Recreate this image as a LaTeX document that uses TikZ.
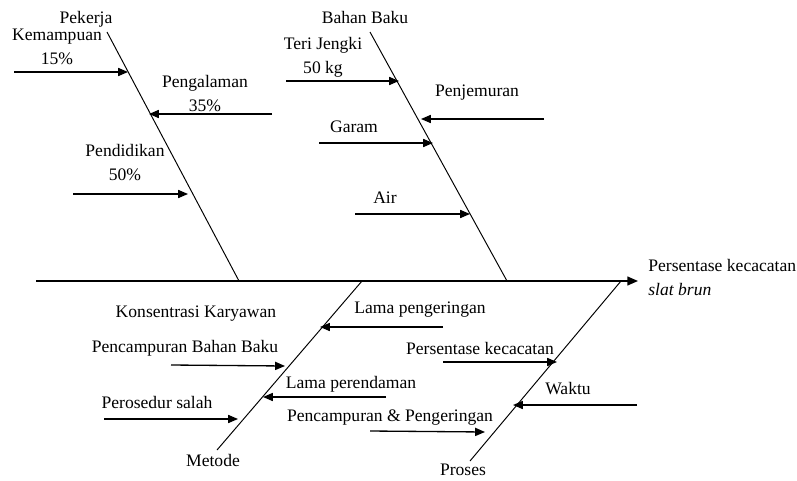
\documentclass[tikz,border=0pt]{standalone}
\usepackage{fontspec}
\setmainfont{Liberation Serif}
\usetikzlibrary{arrows.meta}

\begin{document}
\begin{tikzpicture}[x=0.02cm, y=-0.02cm,
  lbl/.style={font=\fontsize{10}{13.6}\selectfont, inner sep=0pt, anchor=north, align=center},
  bone/.style={line width=0.55pt},
  spine/.style={line width=0.85pt, -{Triangle[length=6pt, width=5pt]}},
  cause/.style={line width=0.75pt, -{Triangle[length=5.6pt, width=4.6pt]}}]
  \useasboundingbox (0,0) rectangle (797,480);

  % Spine and effect
  \coordinate (tail) at (36,281);
  \coordinate (head) at (638,281);
  \draw[spine] (tail) -- (head);
  \node[lbl, anchor=north west, align=left] (effect) at (648,259) {Persentase kecacatan\\\textit{slat brun}};

  % Pekerja
  \coordinate (pkTop) at (107,32);
  \coordinate (pkBot) at (239,281);
  \draw[bone] (pkTop) -- (pkBot);
  \node[lbl] (pekerja) at (86,11) {Pekerja};
  \node[lbl] (kemampuan) at (57,29) {Kemampuan\\15\%};
  \node[lbl] (pengalaman) at (205,75) {Pengalaman\\35\%};
  \node[lbl] (pendidikan) at (125,144) {Pendidikan\\50\%};
  \coordinate (kemS) at (14,72);   \coordinate (kemE) at (128,72);
  \coordinate (pglS) at (272,114); \coordinate (pglE) at (149,114);
  \coordinate (pddS) at (73,194);  \coordinate (pddE) at (188,194);
  \draw[cause] (kemS) -- (kemE);
  \draw[cause] (pglS) -- (pglE);
  \draw[cause] (pddS) -- (pddE);

  % Bahan Baku
  \coordinate (bbTop) at (370,32);
  \coordinate (bbBot) at (507,281);
  \draw[bone] (bbTop) -- (bbBot);
  \node[lbl] (bahanbaku) at (365,11) {Bahan Baku};
  \node[lbl] (teri) at (323,37) {Teri Jengki\\50 kg};
  \node[lbl] (penjemuran) at (477,85) {Penjemuran};
  \node[lbl] (garam) at (354,121) {Garam};
  \node[lbl] (air) at (385,192) {Air};
  \coordinate (teriS) at (286,81);  \coordinate (teriE) at (399,81);
  \coordinate (pjmS) at (544,119);  \coordinate (pjmE) at (421,119);
  \coordinate (grmS) at (319,143);  \coordinate (grmE) at (433,143);
  \coordinate (airS) at (355,214);  \coordinate (airE) at (470,214);
  \draw[cause] (teriS) -- (teriE);
  \draw[cause] (pjmS) -- (pjmE);
  \draw[cause] (grmS) -- (grmE);
  \draw[cause] (airS) -- (airE);

  % Metode
  \coordinate (mtTop) at (362,281);
  \coordinate (mtBot) at (217,450);
  \draw[bone] (mtTop) -- (mtBot);
  \node[lbl] (metode) at (213,454) {Metode};
  \node[lbl] (konsentrasi) at (196,306) {Konsentrasi Karyawan};
  \node[lbl] (pcbb) at (185,340) {Pencampuran Bahan Baku};
  \node[lbl] (perosedur) at (157,396) {Perosedur salah};
  \node[lbl] (lpgr) at (420,302) {Lama pengeringan};
  \node[lbl] (lprd) at (351,376) {Lama perendaman};
  \coordinate (lpgrS) at (443,327); \coordinate (lpgrE) at (320,327);
  \coordinate (pcbbS) at (171,365); \coordinate (pcbbE) at (285,366);
  \coordinate (lprdS) at (386,397); \coordinate (lprdE) at (263,397);
  \coordinate (prsS) at (104,419);  \coordinate (prsE) at (238,419);
  \draw[cause] (lpgrS) -- (lpgrE);
  \draw[cause] (pcbbS) -- (pcbbE);
  \draw[cause] (lprdS) -- (lprdE);
  \draw[cause] (prsS) -- (prsE);

  % Proses
  \coordinate (psTop) at (621,281);
  \coordinate (psBot) at (470,461);
  \draw[bone] (psTop) -- (psBot);
  \node[lbl] (proses) at (463,464) {Proses};
  \node[lbl] (pkct) at (480,342) {Persentase kecacatan};
  \node[lbl] (waktu) at (568,382) {Waktu};
  \node[lbl] (pcpg) at (390,409) {Pencampuran \& Pengeringan};
  \coordinate (pkctS) at (443,362); \coordinate (pkctE) at (557,362);
  \coordinate (wktS) at (637,405);  \coordinate (wktE) at (513,405);
  \coordinate (pcpgS) at (370,431); \coordinate (pcpgE) at (485,432);
  \draw[cause] (pkctS) -- (pkctE);
  \draw[cause] (wktS) -- (wktE);
  \draw[cause] (pcpgS) -- (pcpgE);
\end{tikzpicture}
\end{document}
